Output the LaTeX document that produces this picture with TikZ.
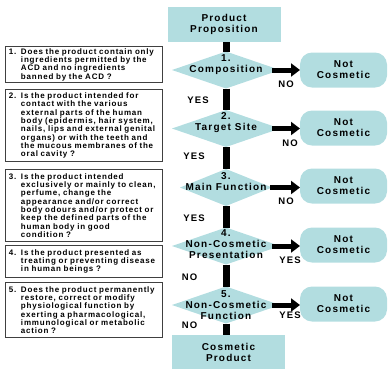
\documentclass[tikz,border=0pt]{standalone}
\usepackage{fontspec}
\usetikzlibrary{shapes.geometric,arrows.meta}
\newfontfamily\qfont[LetterSpace=10]{Liberation Sans}
\newfontfamily\dfont[LetterSpace=12]{Liberation Sans}
\definecolor{tealfill}{RGB}{178,221,224}
\newcommand\qn[1]{\makebox[12pt][l]{#1}}
\newcommand\qi{\hspace*{12pt}}
\tikzset{
  flowbox/.style={fill=tealfill, minimum width=113pt, minimum height=35pt, inner sep=0pt, outer sep=0pt,
    font=\dfont\bfseries\fontsize{10}{11}\selectfont, align=center},
  dec/.style={diamond, fill=tealfill, minimum width=108pt, minimum height=37pt, inner sep=0pt, outer sep=0pt},
  dtext/.style={font=\dfont\bfseries\fontsize{10}{11}\selectfont, align=center, inner sep=0pt},
  ncbox/.style={fill=tealfill, rounded corners=12pt, minimum width=87pt, minimum height=35pt, inner sep=0pt, outer sep=0pt,
    font=\dfont\bfseries\fontsize{10}{11}\selectfont, align=center},
  qbox/.style={draw=black!75, line width=1pt, fill=white, minimum width=157pt, anchor=north west,
    text width=150pt, align=left, inner xsep=3.5pt, inner ysep=0pt,
    font=\qfont\bfseries\fontsize{8}{8.3}\selectfont},
  flowline/.style={line width=7pt, black},
  outarrow/.style={line width=5pt, black, -{Triangle[length=9pt,width=13pt]}, shorten <=-8pt},
  lab/.style={font=\dfont\bfseries\fontsize{9.5}{10}\selectfont, inner sep=0pt}
}
\begin{document}
\begin{tikzpicture}[x=1pt,y=-1pt]
\useasboundingbox (0,0) rectangle (389,368);
% main flow
\node[flowbox] (pp) at (224,24.5) {Product\\Proposition};
\node[dec] (d1) at (226,70) {};
\node[dec] (d2) at (226,128.5) {};
\node[dec, minimum width=92pt] (d3) at (226,187.5) {};
\node[dec] (d4) at (226,246) {};
\node[dec] (d5) at (226,305) {};
\node[flowbox, minimum height=34pt] (cp) at (228.5,352) {Cosmetic\\Product};
\node[dtext] (t1) at ([yshift=5.5pt]d1.center) {1.\\Composition};
\node[dtext] (t2) at ([yshift=5.5pt]d2.center) {2.\\Target Site};
\node[dtext] (t3) at ([yshift=5.5pt]d3.center) {3.\\Main Function};
\node[dtext] (t4) at ([yshift=2pt]d4.center) {4.\\Non-Cosmetic\\Presentation};
\node[dtext] (t5) at (d5.center) {5.\\Non-Cosmetic\\Function};
% not cosmetic boxes
\node[ncbox] (n1) at (343.5,70) {Not\\Cosmetic};
\node[ncbox] (n2) at (343.5,128) {Not\\Cosmetic};
\node[ncbox] (n3) at (343.5,186) {Not\\Cosmetic};
\node[ncbox] (n4) at (343.5,245) {Not\\Cosmetic};
\node[ncbox] (n5) at (343.5,304) {Not\\Cosmetic};
% vertical connectors
\draw[flowline] (d1.north |- pp.south) -- (d1.north);
\draw[flowline] (d1.south) -- (d2.north);
\draw[flowline] (d2.south) -- (d3.north);
\draw[flowline] (d3.south) -- (d4.north);
\draw[flowline] (d4.south) -- (d5.north);
\draw[flowline] (d5.south) -- (d5.south |- cp.north);
% horizontal arrows
\draw[outarrow] (d1.east) -- (d1.east -| n1.west);
\draw[outarrow] (d2.east) -- (d2.east -| n2.west);
\draw[outarrow, shorten <=-2pt] (d3.east) -- (d3.east -| n3.west);
\draw[outarrow] (d4.east) -- (d4.east -| n4.west);
\draw[outarrow] (d5.east) -- (d5.east -| n5.west);
% labels
\node[lab] (no1) at (286,84) {NO};
\node[lab] (yes1) at (198,100) {YES};
\node[lab] (no2) at (290,143) {NO};
\node[lab] (yes2) at (194,156.5) {YES};
\node[lab] (no3) at (286,201) {NO};
\node[lab] (yes3) at (194,218) {YES};
\node[lab] (yes4) at (290,260) {YES};
\node[lab] (no4) at (189.5,277) {NO};
\node[lab] (yes5) at (290,315) {YES};
\node[lab] (no5) at (189.5,325) {NO};
% question boxes
\node[qbox, minimum height=36pt] (q1) at (5,46) {\qn{1.}Does the product contain only\\\qi ingredients permitted by the\\\qi ACD and no ingredients\\\qi banned by the ACD ?};
\node[qbox, minimum height=72pt] (q2) at (5,89) {\qn{2.}Is the product intended for\\\qi contact with the various\\\qi external parts of the human\\\qi body (epidermis, hair system,\\\qi nails, lips and external genital\\\qi organs) or with the teeth and\\\qi the mucous membranes of the\\\qi oral cavity ?};
\node[qbox, minimum height=72pt] (q3) at (5,169) {\qn{3.}Is the product intended\\\qi exclusively or mainly to clean,\\\qi perfume, change the\\\qi appearance and/or correct\\\qi body odours and/or protect or\\\qi keep the defined parts of the\\\qi human body in good\\\qi condition ?};
\node[qbox, minimum height=32pt] (q4) at (5,245) {\qn{4.}Is the product presented as\\\qi treating or preventing disease\\\qi in human beings ?};
\node[qbox, minimum height=55pt] (q5) at (5,282) {\qn{5.}Does the product permanently\\\qi restore, correct or modify\\\qi physiological function by\\\qi exerting a pharmacological,\\\qi immunological or metabolic\\\qi action ?};
\end{tikzpicture}
\end{document}
